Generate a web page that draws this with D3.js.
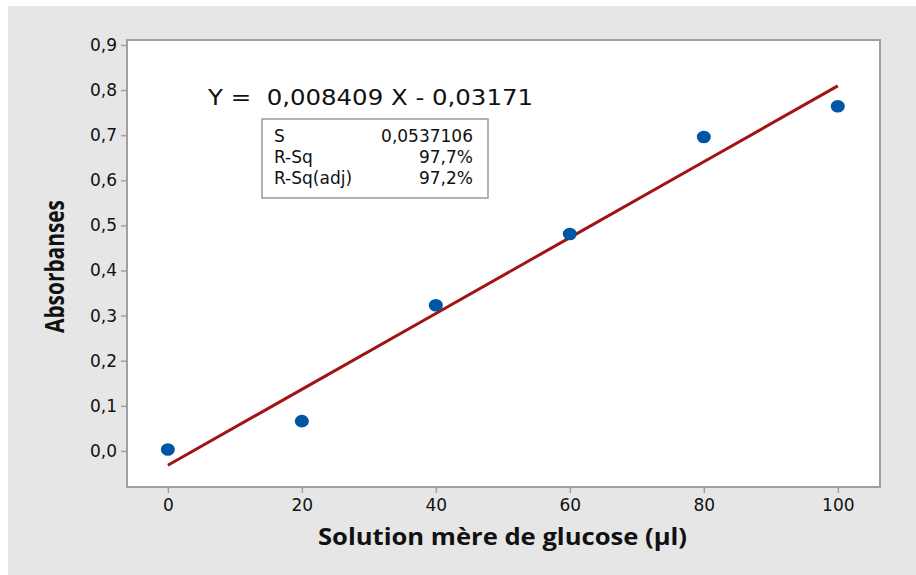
<!DOCTYPE html>
<html>
<head>
<meta charset="utf-8">
<script src="https://cdn.jsdelivr.net/npm/d3@7"></script>
<style>
  html, body { margin: 0; padding: 0; background: #fff; }
  svg { display: block; font-family: "Open Sans", "Noto Sans", sans-serif; }
</style>
</head>
<body>
<div id="chart"></div>
<script>
// valeurs
const volumes = [0, 20, 40, 60, 80, 100];
const absorbances = [0.003, 0.066, 0.323, 0.481, 0.696, 0.764];
const fitSlope = 0.008409, fitIntercept = -0.03171;
const xTicks = [0, 20, 40, 60, 80, 100];
const yTicks = [0, 0.1, 0.2, 0.3, 0.4, 0.5, 0.6, 0.7, 0.8, 0.9];
const statLabels = ["S", "R-Sq", "R-Sq(adj)"];
const statValues = ["0,0537106", "97,7%", "97,2%"];
const equation = "Y =  0,008409 X - 0,03171";

const W = 916, H = 575;
const plot = { left: 127, top: 40, right: 880, bottom: 487 };
const tickFont = "'DejaVu Sans', sans-serif";

const svg = d3.select("#chart").append("svg").attr("width", W).attr("height", H);
svg.append("rect").attr("x", 8).attr("y", 6).attr("width", W - 8).attr("height", H - 6).attr("fill", "#e6e6e6");
svg.append("rect").attr("x", plot.left).attr("y", plot.top)
  .attr("width", plot.right - plot.left).attr("height", plot.bottom - plot.top)
  .attr("fill", "#fff");

const x = d3.scaleLinear().domain([-6.1, 106.3]).range([plot.left, plot.right]);
const y = d3.scaleLinear().domain([-0.08, 0.911]).range([plot.bottom, plot.top]);

const comma = (d) => d3.format(".1f")(d).replace(".", ",");

// axes
const ax = svg.append("g").attr("transform", `translate(0,${plot.bottom})`)
  .call(d3.axisBottom(x).tickValues(xTicks).tickSize(6).tickPadding(6).tickFormat(d3.format("d")));
const ay = svg.append("g").attr("transform", `translate(${plot.left},0)`)
  .call(d3.axisLeft(y).tickValues(yTicks).tickSize(6).tickPadding(4).tickFormat(comma));
[ax, ay].forEach((g) => {
  g.select(".domain").remove();
  g.selectAll(".tick line").attr("stroke", "#a0a0a0").attr("stroke-width", 1.5);
  g.selectAll(".tick text").attr("fill", "#111").style("font-size", "17px").style("font-family", tickFont);
});

// cadre
svg.append("rect").attr("x", plot.left).attr("y", plot.top)
  .attr("width", plot.right - plot.left).attr("height", plot.bottom - plot.top)
  .attr("fill", "none").attr("stroke", "#a0a0a0").attr("stroke-width", 2);

// droite de régression
const fitPts = volumes.map((v) => ({ v, a: fitSlope * v + fitIntercept }));
svg.append("path").datum(fitPts).attr("fill", "none").attr("stroke", "#a01414").attr("stroke-width", 3)
  .attr("d", d3.line().x((d) => x(d.v)).y((d) => y(d.a)));

// points
svg.selectAll("ellipse.pt").data(volumes).join("ellipse").attr("class", "pt")
  .attr("cx", (d) => x(d)).attr("cy", (d, i) => y(absorbances[i]))
  .attr("rx", 7).attr("ry", 6.3).attr("fill", "#0055a5");

// équation
svg.append("text").attr("x", 208).attr("y", 105).attr("fill", "#111")
  .style("font-size", "22px").style("font-family", tickFont)
  .attr("textLength", 325).attr("lengthAdjust", "spacingAndGlyphs")
  .style("white-space", "pre").text(equation);

// encadré des statistiques
svg.append("rect").attr("x", 262).attr("y", 119).attr("width", 226).attr("height", 79)
  .attr("fill", "#fff").attr("stroke", "#999").attr("stroke-width", 1.5);
statLabels.forEach((s, i) => {
  svg.append("text").attr("x", 274).attr("y", 142 + i * 21).attr("fill", "#111")
    .style("font-size", "17px").style("font-family", tickFont).text(s);
  svg.append("text").attr("x", 473).attr("y", 142 + i * 21).attr("fill", "#111")
    .attr("text-anchor", "end").style("font-size", "17px").style("font-family", tickFont).text(statValues[i]);
});

// titres des axes
svg.append("text").attr("x", 318).attr("y", 545).attr("fill", "#111")
  .style("font-size", "24px").style("font-weight", "bold")
  .attr("textLength", 369).attr("lengthAdjust", "spacingAndGlyphs")
  .text("Solution mère de glucose (µl)");
svg.append("text").attr("transform", "translate(64,333) rotate(-90)").attr("fill", "#111")
  .style("font-size", "27px").style("font-weight", "bold")
  .attr("textLength", 133).attr("lengthAdjust", "spacingAndGlyphs")
  .text("Absorbanses");
</script>
</body>
</html>
